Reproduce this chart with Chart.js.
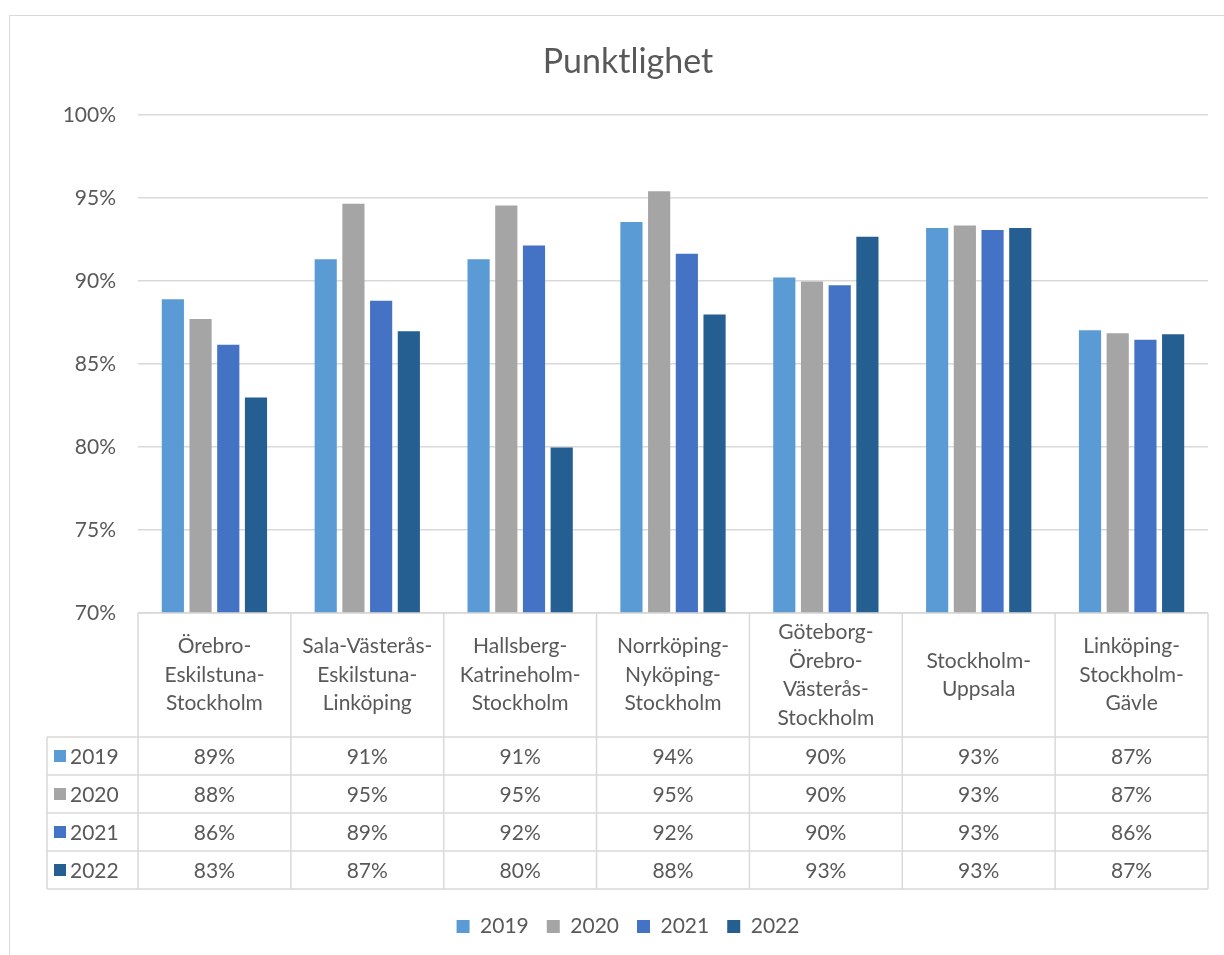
<!DOCTYPE html>
<html>
<head>
<meta charset="utf-8">
<script src="https://cdn.jsdelivr.net/npm/chart.js@4"></script>
<style>
  html, body { margin: 0; padding: 0; background: #fff; }
  #wrap { position: relative; width: 1224px; height: 955px; overflow: hidden; }
  #frame { position: absolute; left: 9px; top: 15px; width: 1300px; height: 1000px;
           border-left: 1.5px solid #d9d9d9; border-top: 1.5px solid #d9d9d9; }
  #chart { position: absolute; left: 0; top: 0; }
</style>
</head>
<body>
<div id="wrap">
  <div id="frame"></div>
  <canvas id="chart" width="1224" height="955"></canvas>
</div>
<script>
// Punktlighet per sträcka, 2019-2022
const categories = [
  ['Örebro-', 'Eskilstuna-', 'Stockholm'],
  ['Sala-Västerås-', 'Eskilstuna-', 'Linköping'],
  ['Hallsberg-', 'Katrineholm-', 'Stockholm'],
  ['Norrköping-', 'Nyköping-', 'Stockholm'],
  ['Göteborg-', 'Örebro-', 'Västerås-', 'Stockholm'],
  ['Stockholm-', 'Uppsala'],
  ['Linköping-', 'Stockholm-', 'Gävle']
];
const years = ['2019', '2020', '2021', '2022'];
const values2019 = [88.9, 91.3, 91.3, 93.55, 90.2, 93.19, 87.03];
const values2020 = [87.7, 94.64, 94.54, 95.4, 89.96, 93.33, 86.85];
const values2021 = [86.15, 88.8, 92.13, 91.63, 89.74, 93.07, 86.45];
const values2022 = [82.97, 86.97, 79.96, 87.97, 92.65, 93.19, 86.79];
const yTicks = [70, 75, 80, 85, 90, 95, 100];
const colors = ['#5B9BD5', '#A5A5A5', '#4472C4', '#255E91'];

const FONT = 'Lato, "Open Sans", sans-serif';
const TEXT = '#595959';
const LINE = '#d9d9d9';

// draws the data table under the plot, aligned with the x scale
const dataTable = {
  id: 'dataTable',
  afterDraw(chart) {
    const ctx = chart.ctx;
    const xs = chart.scales.x;
    const area = chart.chartArea;
    const top = area.bottom;
    const headerH = 124;
    const rowH = 38;
    const keyLeft = 47;
    const n = categories.length;
    const colW = (area.right - area.left) / n;
    const bottom = top + headerH + rowH * years.length;

    ctx.save();
    ctx.strokeStyle = LINE;
    ctx.lineWidth = 1.5;
    ctx.beginPath();
    // top line of the header
    ctx.moveTo(area.left, top);
    ctx.lineTo(area.right, top);
    // row lines
    for (let r = 0; r <= years.length; r++) {
      const y = top + headerH + r * rowH;
      ctx.moveTo(keyLeft, y);
      ctx.lineTo(area.right, y);
    }
    // column lines
    for (let c = 0; c <= n; c++) {
      const x = area.left + c * colW;
      ctx.moveTo(x, top);
      ctx.lineTo(x, bottom);
    }
    ctx.moveTo(keyLeft, top + headerH);
    ctx.lineTo(keyLeft, bottom);
    ctx.stroke();

    ctx.fillStyle = TEXT;
    ctx.font = '21px ' + FONT;
    ctx.textAlign = 'center';
    ctx.textBaseline = 'middle';
    const lineH = 28.5;
    categories.forEach((lines, i) => {
      const cx = xs.getPixelForValue(i);
      const cy = top + headerH / 2;
      const y0 = cy - (lines.length - 1) * lineH / 2;
      lines.forEach((t, k) => ctx.fillText(t, cx, y0 + k * lineH));
    });

    const series = chart.data.datasets;
    series.forEach((ds, r) => {
      const cy = top + headerH + r * rowH + rowH / 2;
      ctx.fillStyle = ds.backgroundColor;
      ctx.fillRect(54, cy - 6, 12, 12);
      ctx.fillStyle = TEXT;
      ctx.textAlign = 'left';
      ctx.fillText(ds.label, 70, cy + 1);
      ctx.textAlign = 'center';
      ds.data.forEach((v, i) => {
        ctx.fillText(Math.round(v) + '%', xs.getPixelForValue(i), cy + 1);
      });
    });
    ctx.restore();
  }
};

const seriesValues = [values2019, values2020, values2021, values2022];

new Chart(document.getElementById('chart').getContext('2d'), {
  type: 'bar',
  data: {
    labels: categories.map(c => c.join('')),
    datasets: years.map((y, i) => ({
      label: y,
      data: seriesValues[i],
      backgroundColor: colors[i],
      borderWidth: 0,
      categoryPercentage: 0.725,
      barPercentage: 0.8
    }))
  },
  options: {
    responsive: false,
    animation: false,
    layout: { padding: { left: 48, right: 16, top: 0, bottom: 8 } },
    plugins: {
      title: {
        display: true,
        text: 'Punktlighet',
        color: TEXT,
        font: { family: FONT, size: 34, weight: 'normal' },
        padding: { top: 42, bottom: 32 }
      },
      legend: {
        position: 'bottom',
        labels: {
          color: TEXT,
          font: { family: FONT, size: 21 },
          boxWidth: 13,
          boxHeight: 13,
          padding: 18
        }
      },
      tooltip: { enabled: false }
    },
    scales: {
      x: {
        grid: { display: false },
        border: { display: false },
        ticks: { display: false },
        afterFit: s => { s.height = 285; }
      },
      y: {
        min: 70,
        max: 100,
        afterBuildTicks: s => { s.ticks = yTicks.map(v => ({ value: v })); },
        afterFit: s => { s.width = 90; },
        grid: { color: LINE, lineWidth: 1.5, drawTicks: false },
        border: { display: false },
        ticks: {
          color: TEXT,
          padding: 22,
          font: { family: FONT, size: 21 },
          callback: v => v + '%'
        }
      }
    }
  },
  plugins: [dataTable]
});
</script>
</body>
</html>
